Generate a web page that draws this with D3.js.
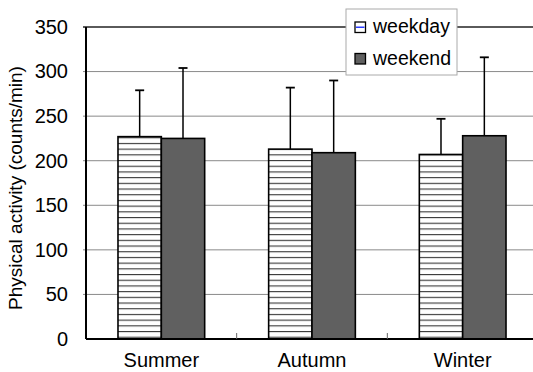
<!DOCTYPE html>
<html>
<head>
  <meta charset="utf-8">
  <title>Physical activity by season</title>
  <script src="https://d3js.org/d3.v7.min.js"></script>
  <style>
    body { margin: 0; background: #fff; }
    svg { display: block; font-family: "Liberation Sans", Arial, sans-serif; }
  </style>
</head>
<body>
  <script>
    // chart values
    let seasons = ["Summer", "Autumn", "Winter"];
    let seriesNames = ["weekday", "weekend"];
    let weekday = [227, 213, 207];
    let weekend = [225, 209, 228];
    let weekdaySD = [52, 69, 40];
    let weekendSD = [79, 81, 88];
    let yTicks = [0, 50, 100, 150, 200, 250, 300, 350];

    let data = seasons.map((s, i) => ({
      season: s,
      values: [
        { key: "weekday", value: weekday[i], sd: weekdaySD[i] },
        { key: "weekend", value: weekend[i], sd: weekendSD[i] }
      ]
    }));

    // plot area runs a little past the right edge of the window, like the original
    let margin = { top: 27, left: 86 },
      width = 452,
      height = 312;

    let svg = d3.select("body")
      .append("svg")
      .attr("width", 533)
      .attr("height", 372);

    let defs = svg.append("defs");
    let hatch = defs.append("pattern")
      .attr("id", "hatch")
      .attr("patternUnits", "userSpaceOnUse")
      .attr("width", 8)
      .attr("height", 5.7);
    hatch.append("rect").attr("width", 8).attr("height", 5.7).attr("fill", "#fff");
    hatch.append("line")
      .attr("x1", 0).attr("x2", 8)
      .attr("y1", 2.5).attr("y2", 2.5)
      .attr("stroke", "#222")
      .attr("stroke-width", 1);

    let g = svg.append("g")
      .attr("transform", "translate(" + margin.left + "," + margin.top + ")");

    let x0 = d3.scaleBand().domain(seasons).range([0, width]).padding(0);
    let x1 = d3.scaleBand().domain(seriesNames).range([0, x0.bandwidth()])
      .paddingInner(0).paddingOuter(0.738);
    let y = d3.scaleLinear().domain([0, 350]).range([height, 0]);

    let fill = { weekday: "url(#hatch)", weekend: "#606060" };

    // gridlines
    g.selectAll(".grid")
      .data(yTicks.filter(d => d > 0 && d < 350))
      .enter()
      .append("line")
      .attr("x1", -3).attr("x2", width)
      .attr("y1", d => y(d)).attr("y2", d => y(d))
      .attr("stroke", "#8a8a8a")
      .attr("stroke-width", 1);

    // top border
    g.append("line")
      .attr("x1", -3).attr("x2", width)
      .attr("y1", y(350)).attr("y2", y(350))
      .attr("stroke", "#5a5a5a")
      .attr("stroke-width", 2);

    // y axis labels
    let yAxis = g.append("g")
      .call(d3.axisLeft(y).tickValues(yTicks).tickSize(0).tickPadding(18));
    yAxis.select(".domain").remove();
    yAxis.selectAll("text").attr("font-size", 20).attr("fill", "#000")
      .attr("font-family", "Liberation Sans, Arial, sans-serif");

    // bars
    let groups = g.selectAll(".season")
      .data(data)
      .enter()
      .append("g")
      .attr("transform", d => "translate(" + x0(d.season) + ",0)");

    groups.selectAll("rect")
      .data(d => d.values)
      .enter()
      .append("rect")
      .attr("x", d => x1(d.key))
      .attr("y", d => y(d.value))
      .attr("width", x1.bandwidth())
      .attr("height", d => height - y(d.value))
      .attr("fill", d => fill[d.key])
      .attr("stroke", "#000")
      .attr("stroke-width", 1.6);

    // error bars (upper only)
    let err = groups.selectAll(".err")
      .data(d => d.values)
      .enter()
      .append("g")
      .attr("transform", d => "translate(" + (x1(d.key) + x1.bandwidth() / 2) + ",0)");
    err.append("line")
      .attr("x1", 0).attr("x2", 0)
      .attr("y1", d => y(d.value)).attr("y2", d => y(d.value + d.sd))
      .attr("stroke", "#000").attr("stroke-width", 1.5);
    err.append("line")
      .attr("x1", -4.5).attr("x2", 4.5)
      .attr("y1", d => y(d.value + d.sd)).attr("y2", d => y(d.value + d.sd))
      .attr("stroke", "#000").attr("stroke-width", 1.8);

    // left and bottom axis lines
    g.append("line")
      .attr("x1", 0).attr("x2", 0).attr("y1", 0).attr("y2", height)
      .attr("stroke", "#000").attr("stroke-width", 2);
    g.append("line")
      .attr("x1", 0).attr("x2", width).attr("y1", height).attr("y2", height)
      .attr("stroke", "#000").attr("stroke-width", 2);

    // small inward ticks between categories
    g.selectAll(".sep")
      .data(seasons.slice(1))
      .enter()
      .append("line")
      .attr("x1", d => x0(d)).attr("x2", d => x0(d))
      .attr("y1", height).attr("y2", height - 6)
      .attr("stroke", "#666").attr("stroke-width", 1);

    // category labels
    let xAxis = g.append("g")
      .attr("transform", "translate(0," + height + ")")
      .call(d3.axisBottom(x0).tickSize(0).tickPadding(14));
    xAxis.select(".domain").remove();
    xAxis.selectAll("text").attr("font-size", 20).attr("fill", "#000")
      .attr("font-family", "Liberation Sans, Arial, sans-serif");

    // y axis title
    svg.append("text")
      .attr("transform", "translate(22,188) rotate(-90)")
      .attr("text-anchor", "middle")
      .attr("font-size", 19)
      .attr("fill", "#000")
      .text("Physical activity (counts/min)");

    // legend
    let legend = svg.append("g").attr("transform", "translate(346,9)");
    legend.append("rect")
      .attr("width", 111).attr("height", 66)
      .attr("fill", "#fff")
      .attr("stroke", "#aaa").attr("stroke-width", 1);

    let items = legend.selectAll(".item")
      .data(seriesNames)
      .enter()
      .append("g")
      .attr("transform", (d, i) => "translate(9," + (13 + i * 31.5) + ")");
    items.append("rect")
      .attr("width", 10.5).attr("height", 10.5)
      .attr("fill", d => d === "weekday" ? "#fff" : "#606060")
      .attr("stroke", "#000").attr("stroke-width", 1.3);
    items.filter(d => d === "weekday")
      .append("line")
      .attr("x1", 1).attr("x2", 9.5).attr("y1", 5.25).attr("y2", 5.25)
      .attr("stroke", "#2a3cff").attr("stroke-width", 1.5);
    items.append("text")
      .attr("x", 18).attr("y", 11)
      .attr("font-size", 19.5)
      .attr("fill", "#000")
      .text(d => d);
  </script>
</body>
</html>
